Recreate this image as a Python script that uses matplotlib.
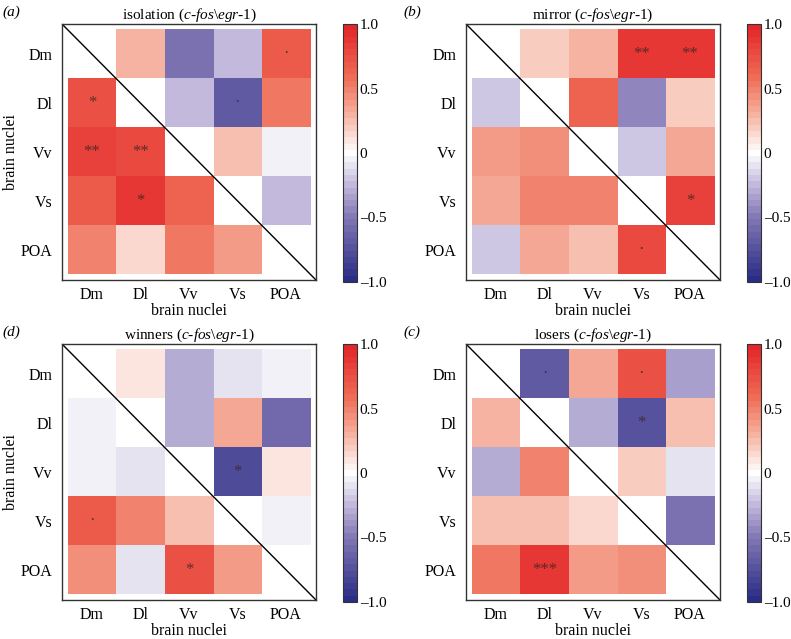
import numpy as np
import matplotlib
matplotlib.use("Agg")
from matplotlib import pyplot as plt
from matplotlib.colors import LinearSegmentedColormap

plt.rcParams['font.family'] = ['Liberation Serif', 'DejaVu Serif']
plt.rcParams['mathtext.fontset'] = 'custom'
plt.rcParams['mathtext.rm'] = 'Liberation Serif'
plt.rcParams['mathtext.it'] = 'Liberation Serif:italic'

nuclei = ['Dm', 'Dl', 'Vv', 'Vs', 'POA']
groups = ['isolation', 'mirror', 'winners', 'losers']
panel_tags = ['(a)', '(b)', '(d)', '(c)']

# rows / cols: Dm, Dl, Vv, Vs, POA ; diagonal left empty
isolation = [[np.nan, 0.30, -0.55, -0.25, 0.70],
             [0.72, np.nan, -0.25, -0.68, 0.52],
             [0.82, 0.80, np.nan, 0.22, -0.04],
             [0.68, 0.88, 0.62, np.nan, -0.25],
             [0.48, 0.15, 0.55, 0.38, np.nan]]
mirror = [[np.nan, 0.20, 0.30, 0.90, 0.90],
          [-0.18, np.nan, 0.65, -0.42, 0.18],
          [0.40, 0.45, np.nan, -0.18, 0.33],
          [0.33, 0.48, 0.48, np.nan, 0.85],
          [-0.20, 0.32, 0.22, 0.78, np.nan]]
winners = [[np.nan, 0.12, -0.28, -0.12, -0.04],
           [-0.04, np.nan, -0.28, 0.33, -0.58],
           [-0.04, -0.12, np.nan, -0.80, 0.10],
           [0.68, 0.48, 0.25, np.nan, -0.05],
           [0.45, -0.12, 0.75, 0.40, np.nan]]
losers = [[np.nan, -0.68, 0.33, 0.75, -0.35],
          [0.30, np.nan, -0.28, -0.75, 0.25],
          [-0.30, 0.48, np.nan, 0.18, -0.10],
          [0.22, 0.22, 0.15, np.nan, -0.55],
          [0.55, 0.88, 0.38, 0.42, np.nan]]

# significance marks: (row, col, text)
isolation_sig = [(0, 4, '·'), (1, 0, '*'), (1, 3, '·'), (2, 0, '**'),
                 (2, 1, '**'), (3, 1, '*')]
mirror_sig = [(0, 3, '**'), (0, 4, '**'), (3, 4, '*'), (4, 3, '·')]
winners_sig = [(2, 3, '*'), (3, 0, '·'), (4, 2, '*')]
losers_sig = [(0, 1, '·'), (0, 3, '·'), (1, 3, '*'), (4, 1, '***')]

cbar_ticks = [-1.0, -0.5, 0.0, 0.5, 1.0]
cbar_labels = ['\u20131.0', '\u20130.5', '0', '0.5', '1.0']

cmap = LinearSegmentedColormap.from_list(
    'rb', [(0.0, '#2a2d86'), (0.25, '#8579b6'), (0.375, '#c2b9dc'),
           (0.5, '#ffffff'), (0.65, '#f6b3a1'), (0.8, '#ef6c55'),
           (1.0, '#e4262a')], N=41)
cmap.set_bad('white')

fig = plt.figure(figsize=(7.91, 6.39), dpi=100)

W, H = 791.0, 639.0
# pixel positions of each panel frame: left, top
boxes = [(62, 24), (466, 24), (62, 344), (466, 344)]
cbar_x = [343, 747, 343, 747]


def draw_panel(k, data, sig):
    left, top = boxes[k]
    ax = fig.add_axes([left / W, (H - top - 256) / H, 254 / W, 256 / H])
    im = ax.imshow(np.ma.masked_invalid(np.array(data)), cmap=cmap,
                   vmin=-1, vmax=1, aspect='auto', interpolation='nearest')
    ax.set_xlim(-0.62, 4.62)
    ax.set_ylim(4.62, -0.62)
    ax.plot([0, 1], [1, 0], color='black', lw=1.0, transform=ax.transAxes)
    for r, c, s in sig:
        ax.text(c, r, s, ha='center', va='center', fontsize=12,
                color='#3a2525', alpha=0.8)
    ax.set_xticks(range(5))
    ax.set_xticklabels(nuclei)
    ax.set_yticks(range(5))
    ax.set_yticklabels(nuclei)
    ax.tick_params(axis='x', length=0, labelsize=11.5, pad=5)
    ax.tick_params(axis='y', length=0, labelsize=11.5, pad=7)
    for sp in ax.spines.values():
        sp.set_color('#333333')
        sp.set_linewidth(1.0)
    ax.set_xlabel('brain nuclei', fontsize=11.5, labelpad=0)
    if k % 2 == 0:
        ax.set_ylabel('brain nuclei', fontsize=11.5, labelpad=1)
    ax.set_title(groups[k] + r' ($\mathit{c}$-$\mathit{fos\backslash egr}$-$\mathit{1}$)',
                 fontsize=11, pad=4)
    tag_x = 2 if k % 2 == 0 else 403
    fig.text(tag_x / W, 1 - (top - 12) / H, panel_tags[k], fontsize=11,
             ha='left', va='center', style='italic')

    cax = fig.add_axes([cbar_x[k] / W, (H - top - 258) / H, 14 / W, 258 / H])
    cb = fig.colorbar(im, cax=cax)
    cb.set_ticks(cbar_ticks)
    cb.set_ticklabels(cbar_labels)
    cb.outline.set_edgecolor('#333333')
    cb.outline.set_linewidth(0.8)
    cax.tick_params(length=0, labelsize=11, pad=2)


for k, (d, s) in enumerate([(isolation, isolation_sig), (mirror, mirror_sig),
                            (winners, winners_sig), (losers, losers_sig)]):
    draw_panel(k, d, s)

plt.savefig('out.png', dpi=100)
